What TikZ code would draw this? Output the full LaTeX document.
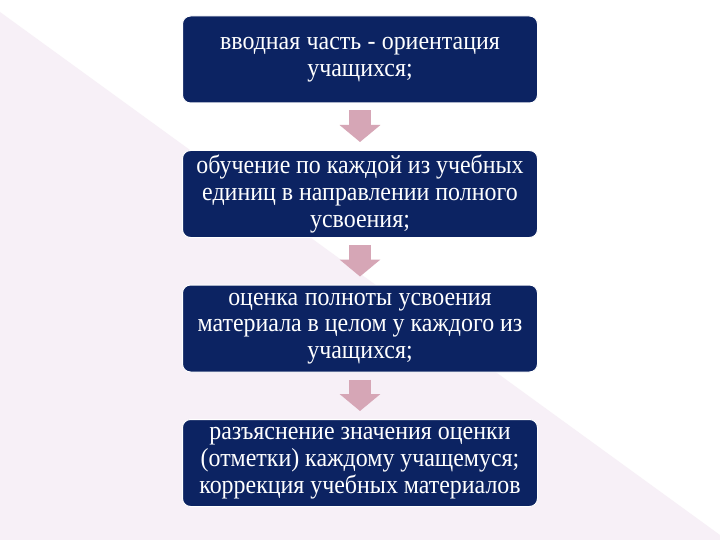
\documentclass[tikz,border=0pt]{standalone}
\usepackage{fontspec}
\setmainfont[FakeStretch=0.92]{Liberation Serif}
\usetikzlibrary{arrows.meta,calc}
\definecolor{navy}{RGB}{12,35,98}
\definecolor{rose}{RGB}{214,166,182}
\definecolor{lav}{RGB}{247,240,247}
\newcommand\tightspaces{\spaceskip=5.6pt plus 1pt minus 0.5pt\relax}
\tikzset{
  stepbox/.style={fill=navy, draw=white, line width=1pt, rounded corners=8pt,
    minimum width=355pt, minimum height=87pt, text width=352pt, align=center,
    text=white, font=\fontsize{26}{26.8}\selectfont, inner sep=0pt,
    execute at begin node=\tightspaces},
  flow/.style={draw=rose, line width=22pt, -{Triangle[width=40pt,length=17pt]}, rose}
}
\begin{document}
\begin{tikzpicture}[x=1pt,y=-1pt]
\fill[white] (0,0) rectangle (720,540);
\fill[lav] (0,12) -- (720,535) -- (720,540) -- (0,540) -- cycle;
\useasboundingbox (0,0) rectangle (720,540);
\node[stepbox] (a) at (360,59.5) {вводная часть - ориентация\\учащихся;};
\node[stepbox] (b) at (360,194) {обучение по каждой из учебных\\единиц в направлении полного\\усвоения;};
\node[stepbox] (c) at (360,328.5) {оценка полноты усвоения\\материала в целом у каждого из\\учащихся;};
\node[stepbox] (d) at (360,463) {разъяснение значения оценки\\(отметки) каждому учащемуся;\\коррекция учебных материалов};
\draw[flow] ($(a.south)+(0,7)$) -- ($(b.north)+(0,-8)$);
\draw[flow] ($(b.south)+(0,7)$) -- ($(c.north)+(0,-8)$);
\draw[flow] ($(c.south)+(0,7)$) -- ($(d.north)+(0,-8)$);
\end{tikzpicture}
\end{document}
